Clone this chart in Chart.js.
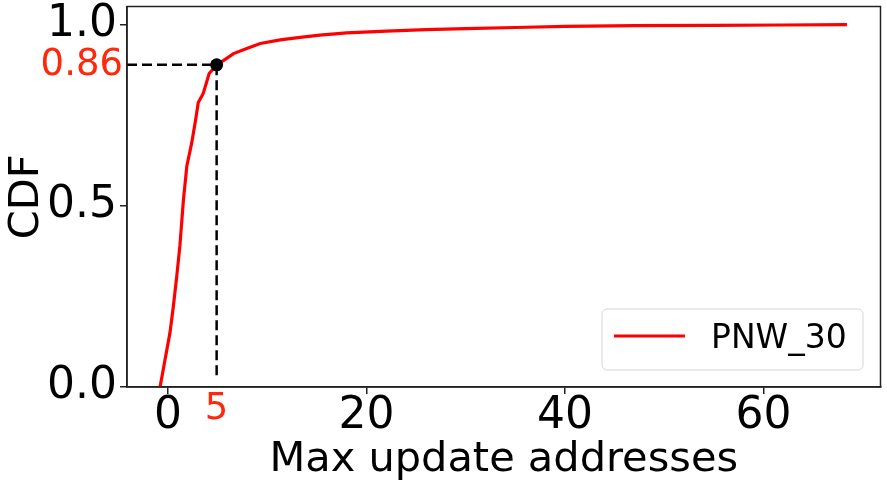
<!DOCTYPE html>
<html>
<head>
<meta charset="utf-8">
<script src="https://cdn.jsdelivr.net/npm/chart.js@4.4.0/dist/chart.umd.min.js"></script>
<style>
    html, body { margin: 0; padding: 0; background: #fff; }
    #wrap { width: 887px; height: 489px; }
</style>
</head>
<body>
<div id="wrap"><canvas id="CdfChart" width="887" height="489"></canvas></div>
<script>
// CDF of max update addresses
const cdfX = [-0.8, -0.3, 0.2, 0.55, 0.9, 1.2, 1.55, 1.9, 2.4, 2.8, 3.05, 3.55, 4.15, 4.9,
    5.8, 6.6, 8, 9.3, 11.3, 13.3, 15.3, 18, 22, 26, 30, 35, 40, 47, 55, 62, 68.4];
const cdfY = [0, 0.075, 0.15, 0.225, 0.31, 0.39, 0.515, 0.61, 0.675, 0.74, 0.785, 0.81, 0.865, 0.889,
    0.905, 0.92, 0.935, 0.948, 0.958, 0.965, 0.971, 0.977, 0.982, 0.986, 0.989, 0.992, 0.995, 0.997, 0.998, 0.999, 1.0];
const xTicks = [0, 20, 40, 60];
const yTicks = [0, 0.5, 1.0];
const markX = 4.9;
const markY = 0.889;
const markXLabel = "5";
const markYLabel = "0.86";
const seriesName = "PNW_30";

const FONT = "'DejaVu Sans', sans-serif";
const RED_TEXT = "rgb(255, 40, 10)";

document.addEventListener("DOMContentLoaded", function () {
    const ctx = document.getElementById("CdfChart");

    // frame, marker labels and legend
    const extras = {
        id: "extras",
        afterDraw(chart) {
            const c = chart.ctx;
            const a = chart.chartArea;
            const xs = chart.scales.x;
            const ys = chart.scales.y;
            c.save();
            c.strokeStyle = "#222";
            c.lineWidth = 1.5;
            c.strokeRect(a.left, a.top, a.right - a.left, a.bottom - a.top);

            c.fillStyle = RED_TEXT;
            c.font = "37px " + FONT;
            c.textAlign = "right";
            c.textBaseline = "middle";
            c.fillText(markYLabel, a.left - 4, ys.getPixelForValue(markY) + 1);
            c.textAlign = "center";
            c.fillText(markXLabel, xs.getPixelForValue(markX), a.bottom + 22);

            // legend
            const bx = 602, by = 309, bw = 261, bh = 61;
            c.beginPath();
            c.roundRect(bx, by, bw, bh, 5);
            c.fillStyle = "rgba(255,255,255,0.8)";
            c.fill();
            c.strokeStyle = "#d6d6d6";
            c.lineWidth = 1;
            c.stroke();
            c.beginPath();
            c.moveTo(614, 336);
            c.lineTo(685, 336);
            c.strokeStyle = "red";
            c.lineWidth = 3;
            c.stroke();
            c.fillStyle = "#000";
            c.font = "33px " + FONT;
            c.textAlign = "left";
            c.textBaseline = "middle";
            c.fillText(seriesName, 711, 339);
            c.restore();
        }
    };

    new Chart(ctx, {
        type: "scatter",
        data: {
            datasets: [
                {
                    label: seriesName,
                    data: cdfX.map((x, i) => ({ x: x, y: cdfY[i] })),
                    showLine: true,
                    borderColor: "red",
                    borderWidth: 3.2,
                    pointRadius: 0,
                    order: 2
                },
                {
                    label: "guide",
                    data: [{ x: -4.13, y: markY }, { x: markX, y: markY }, { x: markX, y: 0.03 }],
                    showLine: true,
                    borderColor: "#000",
                    borderWidth: 2.5,
                    borderDash: [10, 5],
                    pointRadius: 0,
                    order: 1
                },
                {
                    label: "point",
                    data: [{ x: markX, y: markY }],
                    pointRadius: 6.5,
                    pointBackgroundColor: "#000",
                    pointBorderWidth: 0,
                    order: 0
                }
            ]
        },
        options: {
            responsive: false,
            animation: false,
            layout: { padding: { top: 6, right: 6, left: 0, bottom: 0 } },
            plugins: {
                legend: { display: false },
                tooltip: { enabled: false }
            },
            scales: {
                x: {
                    type: "linear",
                    min: -4.13,
                    max: 71.78,
                    afterBuildTicks: function (scale) {
                        scale.ticks = xTicks.map(v => ({ value: v }));
                    },
                    afterFit: function (scale) {
                        scale.height = 102;
                        scale.paddingLeft = 0;
                        scale.paddingRight = 0;
                    },
                    grid: { drawOnChartArea: false, tickLength: 7, color: "#222", lineWidth: 1.5 },
                    border: { color: "#222", width: 1.5 },
                    ticks: {
                        color: "#000",
                        padding: -4,
                        maxRotation: 0,
                        font: { size: 44, family: FONT },
                        callback: v => String(v)
                    },
                    title: {
                        display: true,
                        text: "Max update addresses",
                        color: "#000",
                        font: { size: 41.5, family: FONT },
                        padding: { top: 0, bottom: 4 }
                    }
                },
                y: {
                    type: "linear",
                    min: 0,
                    max: 1.05,
                    afterBuildTicks: function (scale) {
                        scale.ticks = yTicks.map(v => ({ value: v }));
                    },
                    afterFit: function (scale) {
                        scale.width = 127;
                        scale.paddingTop = 0;
                        scale.paddingBottom = 0;
                    },
                    grid: { drawOnChartArea: false, tickLength: 7, color: "#222", lineWidth: 1.5 },
                    border: { color: "#222", width: 1.5 },
                    ticks: {
                        color: "#000",
                        padding: 3,
                        font: { size: 44, family: FONT },
                        callback: v => v.toFixed(1)
                    },
                    title: {
                        display: true,
                        text: "CDF",
                        color: "#000",
                        font: { size: 41.5, family: FONT },
                        padding: { top: 2, bottom: 0 }
                    }
                }
            }
        },
        plugins: [extras]
    });
});
</script>
</body>
</html>
